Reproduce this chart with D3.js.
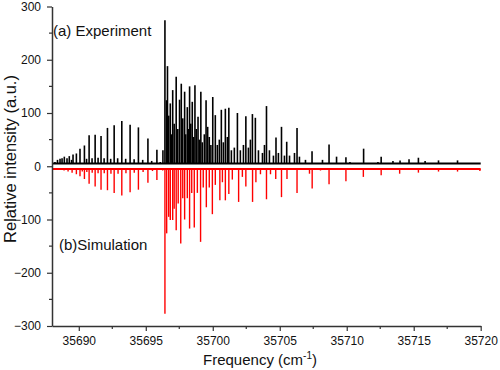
<!DOCTYPE html>
<html>
<head>
<meta charset="utf-8">
<script src="https://cdn.jsdelivr.net/npm/d3@7"></script>
<style>
    body { margin: 0; background: #fff; }
    svg text { font-family: "Liberation Sans", Arial, sans-serif; fill: #111; }
</style>
</head>
<body>
<svg width="500" height="370"></svg>
<script>
// experiment peaks (frequency in cm-1, intensity)
const expFreq = [
    35688.22, 35688.41, 35688.60, 35688.75, 35688.92, 35689.12, 35689.29, 35689.46, 35689.57, 35689.82,
    35690.09, 35690.42, 35690.77, 35691.22, 35691.66, 35692.14, 35692.64, 35693.21, 35693.83, 35694.45,
    35695.16, 35695.83, 35696.28, 35696.43, 35696.55, 35696.62, 35696.83, 35697.01, 35697.27, 35697.52,
    35697.65, 35697.90, 35698.10, 35698.27, 35698.47, 35698.67, 35698.90, 35699.11, 35699.50, 35699.62,
    35700.00, 35700.19, 35700.64, 35700.94, 35701.20, 35701.84, 35702.47, 35702.96, 35703.18, 35704.01,
    35704.72, 35705.13, 35705.52, 35706.29, 35707.41, 35708.19, 35708.68, 35709.24, 35709.94, 35710.24,
    35711.26, 35712.33, 35712.57, 35713.45, 35713.98, 35714.65, 35715.35, 35715.85, 35716.85, 35718.27,
    35719.88,
    // weaker lines between the main ones
    35690.58, 35690.99, 35691.44, 35691.89, 35692.38, 35692.90, 35693.50, 35694.13, 35694.77, 35695.44,
    35696.08, 35696.71, 35696.90, 35697.12, 35697.39, 35697.76, 35697.98, 35698.17, 35698.36, 35698.57,
    35698.77, 35698.99, 35699.22, 35699.37, 35699.74, 35699.86, 35700.34, 35700.49, 35700.79, 35701.09,
    35701.39, 35701.61, 35702.06, 35702.29, 35702.66, 35702.81, 35703.41, 35703.71, 35703.86, 35704.23,
    35704.53, 35704.90, 35705.35, 35705.73, 35706.10, 35706.47, 35706.92
];
const expHeight = [
    8, 12, 14, 15, 18, 15, 19, 12, 22, 24,
    33, 39, 58, 59, 57, 72, 77, 85, 78, 73,
    52, 31, 30, 274, 124, 188, 118, 143, 168, 125,
    155, 140, 111, 150, 121, 152, 93, 140, 124, 74,
    130, 96, 106, 108, 110, 100, 94, 98, 91, 113,
    54, 74, 46, 72, 28, 12, 41, 18, 17, 8,
    33, 8, 18, 10, 11, 13, 16, 10, 11, 11,
    6,
    14, 15, 16, 15, 14, 15, 14, 13, 12, 10,
    8, 95, 60, 80, 70, 90, 60, 70, 80, 55,
    70, 50, 45, 60, 55, 40, 40, 50, 45, 55,
    30, 35, 30, 40, 35, 50, 30, 25, 40, 30,
    20, 25, 20, 20, 25, 18, 12
];

// simulated stick spectrum (drawn downward)
const simFreq = [
    35688.60, 35688.90, 35689.20, 35689.50, 35689.82, 35690.09, 35690.42, 35690.77, 35691.22, 35691.66,
    35692.14, 35692.64, 35693.21, 35693.83, 35694.45, 35695.16, 35695.83, 35696.26, 35696.43, 35696.56,
    35696.71, 35696.83, 35697.01, 35697.12, 35697.27, 35697.42, 35697.61, 35697.76, 35697.90, 35698.10,
    35698.27, 35698.43, 35698.62, 35698.85, 35699.09, 35699.29, 35699.52, 35699.74, 35699.97, 35700.19,
    35700.53, 35700.72, 35700.94, 35701.20, 35701.46, 35701.93, 35702.21, 35702.47, 35702.97, 35703.22,
    35703.56, 35704.01, 35704.31, 35704.70, 35705.13, 35705.54, 35706.29, 35707.22, 35707.42, 35708.04,
    35708.68, 35709.94, 35711.24, 35712.57, 35713.95, 35715.35, 35716.85, 35718.27, 35719.94,
    // weak satellites in the low branch
    35690.26, 35690.60, 35691.00, 35691.44, 35691.90, 35692.40, 35692.93, 35693.52, 35694.14, 35694.80,
    35695.50
];
const simHeight = [
    -6, -8, -10, -12, -15, -19, -24, -33, -38, -44,
    -45, -50, -55, -49, -44, -31, -26, -8, -277, -126,
    -95, -101, -101, -80, -120, -70, -145, -60, -100, -60,
    -117, -50, -115, -50, -142, -40, -77, -40, -90, -35,
    -64, -30, -64, -52, -25, -67, -20, -38, -67, -30,
    -15, -62, -15, -24, -58, -24, -50, -14, -42, -8,
    -34, -28, -20, -17, -14, -12, -10, -10, -9,
    -10, -11, -12, -13, -13, -14, -14, -13, -12, -11,
    -9
];

const expBase = 5;
const simBase = -5;
const xTicks = [35690, 35695, 35700, 35705, 35710, 35715, 35720];
const xMinor = [35692.5, 35697.5, 35702.5, 35707.5, 35712.5, 35717.5];
const yTicks = [-300, -200, -100, 0, 100, 200, 300];
const yMinor = [-250, -150, -50, 50, 150, 250];

const svg = d3.select("svg");

const x = d3.scaleLinear().domain([35688, 35720]).range([52, 480.7]);
const y = d3.scaleLinear().domain([-300, 300]).range([326, 6.5]);

/**
 * Draw a stick spectrum with a flat base line
 * @param {array} freq - line positions
 * @param {array} height - line intensities
 * @param {number} base - level of the base line
 * @param {string} color - stroke colour
 * @param {number} width - stick width
 */
function drawSpectrum(freq, height, base, color, width){
    const g = svg.append("g");
    g.append("line")
        .attr("x1", x(35688)).attr("x2", x(35720))
        .attr("y1", y(base)).attr("y2", y(base))
        .attr("stroke", color).attr("stroke-width", 2);

    g.selectAll("line.stick")
        .data(d3.zip(freq, height))
        .enter()
        .append("line")
        .attr("class", "stick")
        .attr("x1", d => x(d[0])).attr("x2", d => x(d[0]))
        .attr("y1", y(base)).attr("y2", d => y(d[1]))
        .attr("stroke", color)
        .attr("stroke-width", width);
}

drawSpectrum(simFreq, simHeight, simBase, "#ff0000", 1.4);
drawSpectrum(expFreq, expHeight, expBase, "#000", 1.6);

// axes
const xAxis = svg.append("g")
    .attr("transform", `translate(0,${y(-300)})`)
    .call(d3.axisBottom(x).tickValues(xTicks).tickFormat(d3.format("d"))
        .tickSize(5).tickSizeOuter(0).tickPadding(5));

xAxis.selectAll(".minor")
    .data(xMinor).enter()
    .append("line")
    .attr("x1", d => x(d)).attr("x2", d => x(d))
    .attr("y1", 0).attr("y2", 3);

const yAxis = svg.append("g")
    .attr("transform", `translate(${x(35688)},0)`)
    .call(d3.axisLeft(y).tickValues(yTicks)
        .tickSize(5).tickSizeOuter(0).tickPadding(6));

yAxis.selectAll(".minor")
    .data(yMinor).enter()
    .append("line")
    .attr("x1", 0).attr("x2", -3)
    .attr("y1", d => y(d)).attr("y2", d => y(d));

svg.selectAll(".domain").attr("stroke", "#333").attr("stroke-width", 1.5);
xAxis.selectAll("line").attr("stroke", "#333").attr("stroke-width", 1.2);
yAxis.selectAll("line").attr("stroke", "#333").attr("stroke-width", 1.2);
svg.selectAll(".tick text")
    .style("font-family", "'Liberation Sans', Arial, sans-serif")
    .style("font-size", "12px").attr("fill", "#111");

// titles
const xTitle = svg.append("text")
    .attr("x", 260).attr("y", 365)
    .attr("text-anchor", "middle")
    .style("font-size", "15px");
xTitle.append("tspan").text("Frequency (cm");
xTitle.append("tspan").attr("dy", -6).style("font-size", "10px").text("-1");
xTitle.append("tspan").attr("dy", 6).text(")");

svg.append("text")
    .attr("transform", "translate(16,159) rotate(-90)")
    .attr("text-anchor", "middle")
    .style("font-size", "16.5px")
    .text("Relative intensity (a.u.)");

svg.append("text")
    .attr("x", 53).attr("y", 36)
    .style("font-size", "15px")
    .text("(a) Experiment");

svg.append("text")
    .attr("x", 59).attr("y", 250)
    .style("font-size", "15px")
    .text("(b)Simulation");
</script>
</body>
</html>
